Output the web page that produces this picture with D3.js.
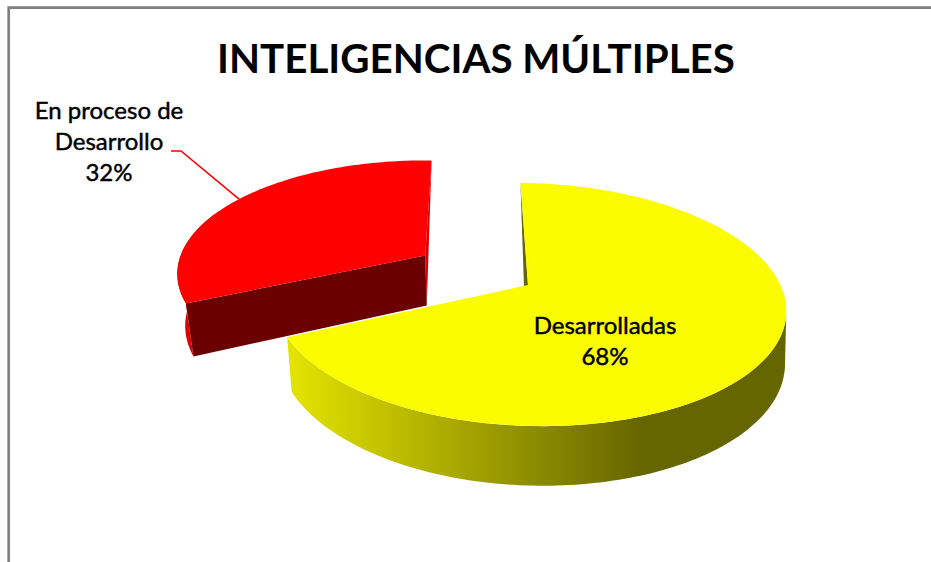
<!DOCTYPE html>
<html>
<head>
<meta charset="utf-8">
<script src="https://cdn.jsdelivr.net/npm/d3@7/dist/d3.min.js"></script>
<style>
html,body{margin:0;padding:0;background:#fff;}
svg{display:block;}
text{font-family:Lato,"Open Sans",sans-serif;fill:#000;}
</style>
</head>
<body>
<script>
const categories = ["Desarrolladas", "En proceso de Desarrollo"];
const seriesValues = [68, 32];
const percentLabels = ["68%", "32%"];
const titleText = "INTELIGENCIAS MÚLTIPLES";

const W = 931, H = 562;
const svg = d3.select("body").append("svg").attr("width", W).attr("height", H);

// frame
svg.append("path").attr("d", "M931,7.7H8.7V562")
  .attr("fill", "none").attr("stroke", "#808080").attr("stroke-width", 2.7);

// gradient on yellow outer wall
const defs = svg.append("defs");
const g = defs.append("linearGradient").attr("id", "wall")
  .attr("gradientUnits", "userSpaceOnUse")
  .attr("x1", 289).attr("x2", 640).attr("y1", 0).attr("y2", 0);
g.append("stop").attr("offset", 0).attr("stop-color", "#e4e400");
g.append("stop").attr("offset", 1).attr("stop-color", "#666600");

// perspective model of the pie plane
const apex = {x: 528, y: 285};
const radRight = 255, radLeft = 251, radY = 118.4, persp = 0.16;
const skew = 6.5, depth = 51.5;
const rad = d => d * Math.PI / 180;
const explode = [{u: 0, v: 0}, {u: -0.425, v: -0.235}];
const styles = [
  {top: "#fcfc00", wall: "url(#wall)", cut: "#666600"},
  {top: "#ff0000", wall: "#e00000", cut: "#6b0000"}
];

function project(a, r, ex, lower) {
  const u = r * Math.sin(a) + ex.u, v = -r * Math.cos(a) + ex.v;
  const w = 1 - persp * v;
  const c = lower ? 1.0125 - 0.0075 * u : 1;
  const rx = u < 0 ? radLeft : radRight;
  return [apex.x + rx * u / w / c,
          apex.y + (radY * v + skew * u) / w / c + (lower ? depth / w : 0)];
}

const pie = d3.pie().sort(null).startAngle(rad(-2)).endAngle(rad(358));
const arcs = pie(seriesValues);
const line = d3.line();

function ring(d, ex, lower) {
  const n = 120;
  const t = d3.scaleLinear().domain([0, n]).range([d.startAngle, d.endAngle]);
  return d3.range(n + 1).map(i => project(t(i), 1, ex, lower));
}
// only the near part of the rim is ever seen
function nearRing(d, ex, lower) {
  const n = 120;
  const a0 = Math.max(d.startAngle, rad(99)), a1 = Math.min(d.endAngle, rad(290));
  const t = d3.scaleLinear().domain([0, n]).range([a0, a1]);
  return d3.range(n + 1).map(i => project(t(i), 1, ex, lower));
}

const slices = svg.selectAll("g.slice").data(arcs).join("g").attr("class", "slice");
slices.sort((a, b) => b.index - a.index);

slices.each(function (d) {
  const gs = d3.select(this), ex = explode[d.index], st = styles[d.index];
  const upper = ring(d, ex, false), lower = ring(d, ex, true);
  const c0 = project(0, 0, ex, false), c1 = project(0, 0, ex, true);
  gs.append("path")
    .attr("d", line(nearRing(d, ex, false).concat(nearRing(d, ex, true).reverse())) + "Z")
    .attr("fill", st.wall);
  if (d.index === 1) {
    gs.append("path").attr("d", line([upper[upper.length - 1], c0, c1]) + "Z").attr("fill", "#d80000");
    gs.append("path").attr("d", line([upper[0], c0, c1, lower[0]]) + "Z").attr("fill", st.cut);
  } else {
    gs.append("path").attr("d", line([upper[0], c0, [c0[0] - 4, c0[1] + 2]]) + "Z").attr("fill", st.cut);
  }
  gs.append("path").attr("d", line(upper.concat([c0])) + "Z").attr("fill", st.top);
});

// title
svg.append("text").attr("x", 476).attr("y", 73).attr("text-anchor", "middle")
  .attr("font-size", 40.3).attr("font-weight", 700).text(titleText);

// labels
function labelText() {
  return svg.append("text").attr("text-anchor", "middle").attr("font-size", 24)
    .attr("font-weight", 400).attr("stroke", "#000").attr("stroke-width", 0.45);
}
const inner = labelText();
inner.append("tspan").attr("x", 605).attr("y", 334).text(categories[0]);
inner.append("tspan").attr("x", 605).attr("y", 365).text(percentLabels[0]);

const outer = labelText();
["En proceso de", "Desarrollo"].forEach((s, i) => {
  outer.append("tspan").attr("x", 109).attr("y", 119 + i * 31).text(s);
});
outer.append("tspan").attr("x", 109).attr("y", 181).text(percentLabels[1]);

// leader line
const mid = (arcs[1].startAngle + arcs[1].endAngle) / 2;
const tip = project(mid, 1, explode[1], false);
svg.append("path").attr("d", line([[171, 151], [181, 151], tip]))
  .attr("fill", "none").attr("stroke", "#ff0000").attr("stroke-width", 1.6);
</script>
</body>
</html>
